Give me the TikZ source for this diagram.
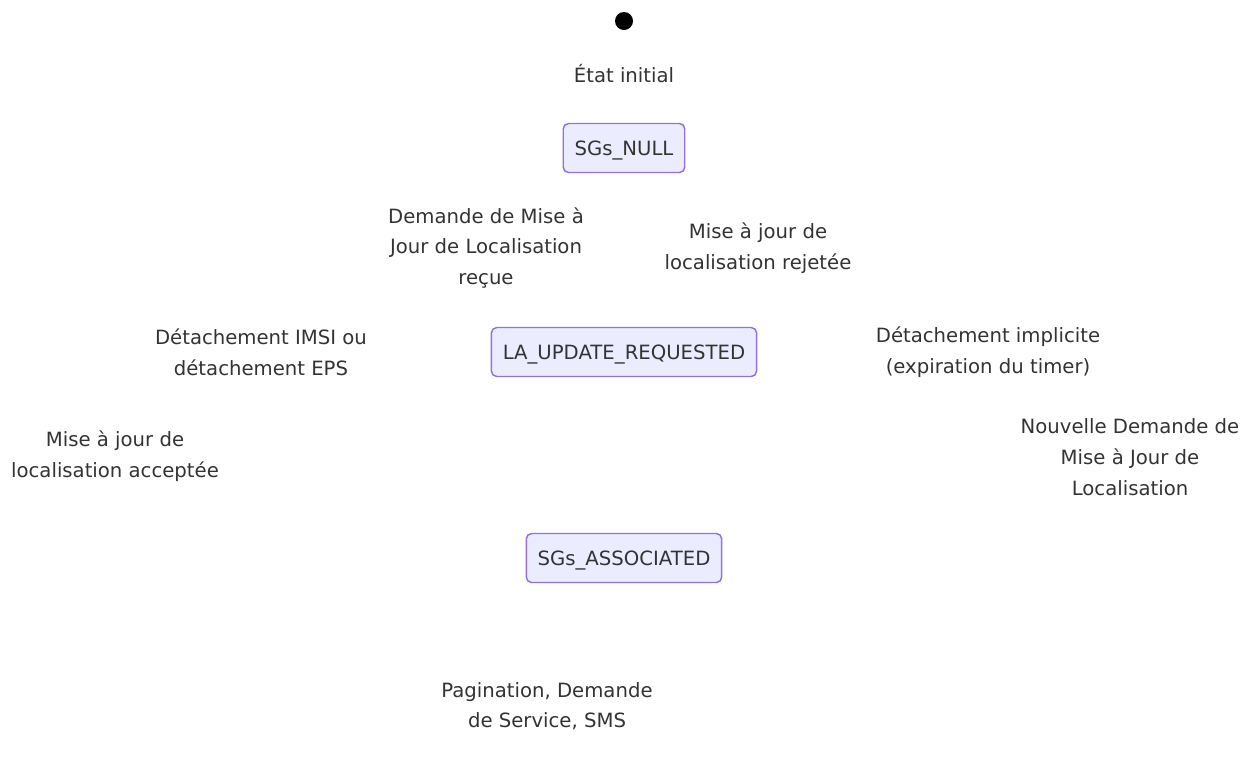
\documentclass[tikz,border=0pt]{standalone}
\usepackage{fontspec}
\setmainfont{DejaVu Sans}
\usepackage{tikz}
\usetikzlibrary{positioning}
\definecolor{stfill}{HTML}{ECECFF}
\definecolor{stline}{HTML}{9370DB}
\definecolor{sttext}{HTML}{333333}
\tikzset{
  etat/.style={draw=stline, fill=stfill, line width=1.1pt, rounded corners=4pt,
               minimum height=36.75pt, inner xsep=8.5pt, text=sttext,
               text height=10.8pt, text depth=0pt,
               font=\fontsize{14.75}{17}\selectfont},
  lbl/.style={align=center, text=sttext, font=\fontsize{14.75}{23}\selectfont}
}
\begin{document}
\begin{tikzpicture}[x=0.75pt,y=-0.75pt]
  \useasboundingbox (0,0) rectangle (1249,769);
  \node[circle, fill=black, minimum size=13.5pt, inner sep=0pt] (init) at (624,21) {};
  \node[lbl] (initlbl) at (624,74) {État initial};

  \node[etat] (null) at (624,148) {SGs\_NULL};
  \node[etat] (laupd) at (624,352) {LA\_UPDATE\_REQUESTED};
  \node[etat] (assoc) at (624,558) {SGs\_ASSOCIATED};

  \node[lbl] (demande) at (486,248) {Demande de Mise à\\Jour de Localisation\\reçue};
  \node[lbl] (rejet) at (758,248) {Mise à jour de\\localisation rejetée};
  \node[lbl] (detach) at (261,352) {Détachement IMSI ou\\détachement EPS};
  \node[lbl] (implicite) at (988,352) {Détachement implicite\\(expiration du timer)};
  \node[lbl] (accept) at (115,456) {Mise à jour de\\localisation acceptée};
  \node[lbl] (nouvelle) at (1130,457) {Nouvelle Demande de\\Mise à Jour de\\Localisation};
  \node[lbl] (pagin) at (547,706) {Pagination, Demande\\de Service, SMS};
\end{tikzpicture}
\end{document}
